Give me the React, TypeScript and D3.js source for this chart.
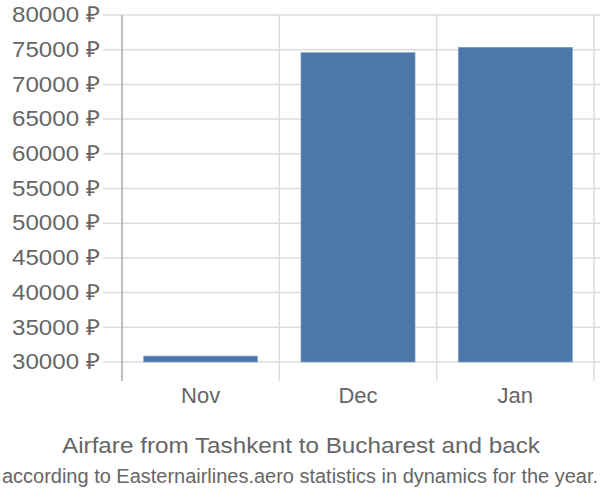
import React from "react";
import * as d3 from "d3";

const categories = ["Nov", "Dec", "Jan"];
const values = [30850, 74570, 75350];
const yTicks = [30000, 35000, 40000, 45000, 50000, 55000, 60000, 65000, 70000, 75000, 80000];
const title = "Airfare from Tashkent to Bucharest and back";
const subtitle = "according to Easternairlines.aero statistics in dynamics for the year.";

export default function App() {
  const W = 600, H = 500;
  const left = 122, right = 594, top = 15, baseY = 362, bottom = 381;
  const x = d3.scaleBand<string>().domain(categories).range([left, right]).paddingInner(0.275).paddingOuter(0.1375);
  const xb = d3.scaleBand<string>().domain(categories).range([left, right]);
  const y = d3.scaleLinear().domain([30000, 80000]).range([baseY, top]);
  const font = "'Liberation Sans', Arial, sans-serif";
  return (
    <svg width={W} height={H} style={{ position: "absolute", left: 0, top: 0 }} fontFamily={font}>
      {yTicks.map((t) => (
        <g key={t}>
          <line x1={103} x2={600} y1={y(t)} y2={y(t)} stroke="#dddddd" strokeWidth={1.5} />
          <text x={100} y={y(t)} dy="0.33em" textAnchor="end" fontSize={22} fill="#666" textLength={88} lengthAdjust="spacingAndGlyphs">
            {t} ₽
          </text>
        </g>
      ))}
      {categories.map((c) => (
        <line key={c} x1={(xb(c) as number) + xb.bandwidth()} x2={(xb(c) as number) + xb.bandwidth()} y1={top} y2={bottom} stroke="#dddddd" strokeWidth={1.5} />
      ))}
      <line x1={left} x2={left} y1={top} y2={bottom} stroke="#aaaaaa" strokeWidth={1.5} />
      {categories.map((c, i) => (
        <rect key={c} x={x(c)} width={x.bandwidth()} y={y(values[i])} height={baseY - y(values[i])} fill="#4c78a8" stroke="#7ea1c7" strokeWidth={0.6} />
      ))}
      {categories.map((c) => (
        <text key={c} x={(x(c) as number) + x.bandwidth() / 2} y={395} dy="0.35em" textAnchor="middle" fontSize={22} fill="#666">
          {c}
        </text>
      ))}
      <text x={301} y={445} dy="0.35em" textAnchor="middle" fontSize={22} fill="#666" textLength={478} lengthAdjust="spacingAndGlyphs">{title}</text>
      <text x={300} y={476} dy="0.35em" textAnchor="middle" fontSize={20} fill="#666" textLength={596} lengthAdjust="spacingAndGlyphs">{subtitle}</text>
    </svg>
  );
}
